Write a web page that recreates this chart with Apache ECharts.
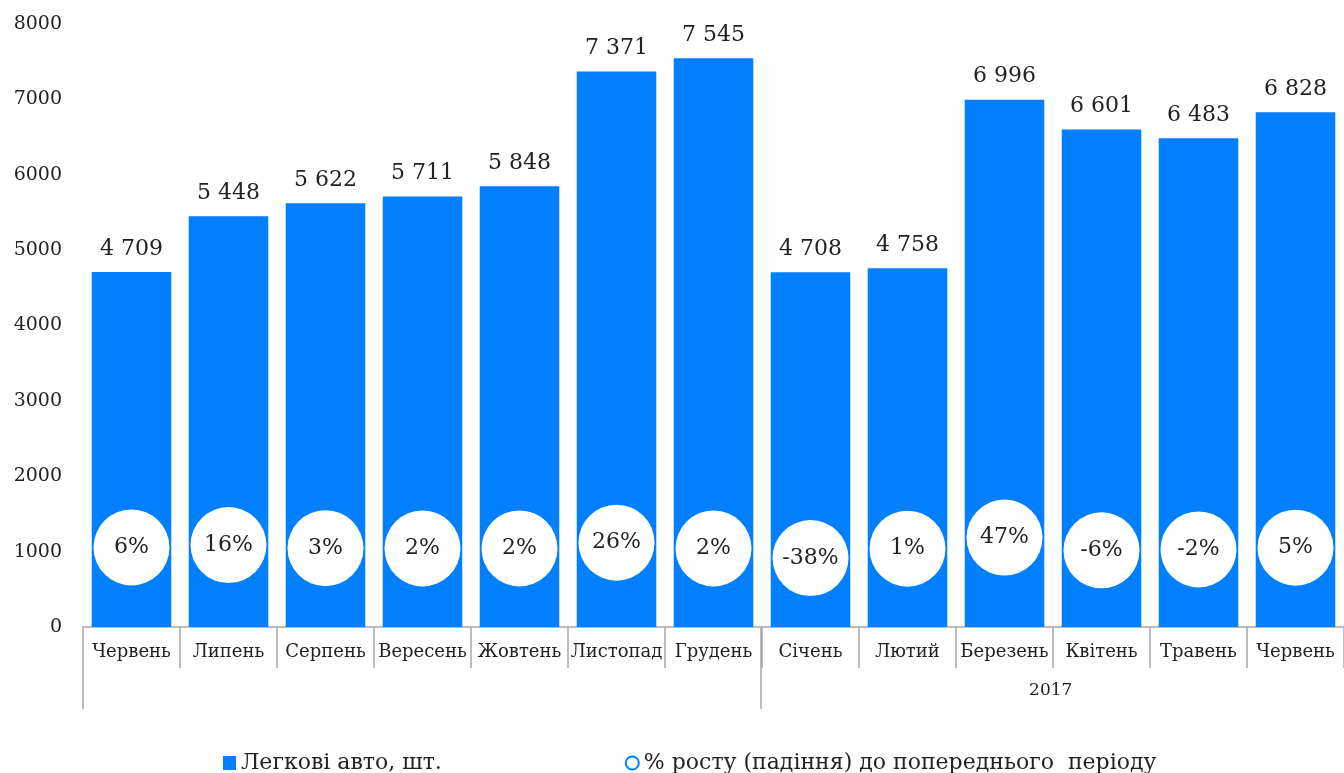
<!DOCTYPE html>
<html>
<head>
<meta charset="utf-8">
<script src="https://cdn.jsdelivr.net/npm/echarts@6/dist/echarts.min.js"></script>
<style>
    html, body { margin: 0; padding: 0; background: #fff; }
    #chart { width: 1344px; height: 773px; }
</style>
</head>
<body>
<div id="chart"></div>
<script>
// Місяці (червень 2016 - червень 2017)
const months = ["Червень", "Липень", "Серпень", "Вересень", "Жовтень", "Листопад", "Грудень",
    "Січень", "Лютий", "Березень", "Квітень", "Травень", "Червень"];
// Межі між місяцями (14 точок): рік підписано посередині групи 2017
const groupLabels = ["", "", "", "", "", "", "", "", "", "", "2017", "", "", ""];
const cars = [4709, 5448, 5622, 5711, 5848, 7371, 7545, 4708, 4758, 6996, 6601, 6483, 6828];
const growth = [6, 16, 3, 2, 2, 26, 2, -38, 1, 47, -6, -2, 5];

const carsName = "Легкові авто, шт.";
const growthName = "% росту (падіння) до попереднього  періоду";

const BLUE = "#0080ff";
const FONT = "DejaVu Serif";
const GRAY = "#a6a6a6";

const fmtThousands = v => String(v).replace(/\B(?=(\d{3})+(?!\d))/g, " ");

const chart = echarts.init(document.getElementById("chart"));

chart.setOption({
    animation: false,
    textStyle: { fontFamily: FONT },
    grid: [
        { left: 83, top: 24, width: 1267, height: 603 },
        // смуга під віссю для підпису року
        { left: 83, top: 627, width: 1267, height: 82 }
    ],
    legend: {
        left: 218,
        top: 747,
        itemGap: 183,
        itemWidth: 13,
        itemHeight: 14,
        textStyle: { fontFamily: FONT, fontSize: 22, color: "#222" },
        data: [
            { name: carsName, icon: "rect" },
            { name: growthName, icon: "circle",
              itemStyle: { color: "#fff", borderColor: BLUE, borderWidth: 2 } }
        ]
    },
    xAxis: [
        {
            type: "category",
            data: months,
            axisLine: { lineStyle: { color: GRAY, width: 1.5 } },
            axisTick: { show: true, interval: 0, length: 41, lineStyle: { color: GRAY, width: 1.5 } },
            axisLabel: { interval: 0, margin: 16, fontSize: 18, color: "#222", fontFamily: FONT }
        },
        {
            type: "category",
            gridIndex: 1,
            data: groupLabels,
            boundaryGap: false,
            position: "bottom",
            axisLine: { show: false },
            axisTick: {
                show: true,
                inside: true,
                length: 82,
                interval: (i) => i === 0 || i === 7,
                lineStyle: { color: GRAY, width: 1.5 }
            },
            axisLabel: {
                inside: true,
                interval: 0,
                margin: 10,
                fontSize: 17,
                color: "#222",
                fontFamily: FONT
            }
        }
    ],
    yAxis: [
        {
            type: "value",
            min: 0,
            max: 8000,
            interval: 1000,
            splitLine: { show: false },
            axisLine: { show: false },
            axisTick: { show: false },
            axisLabel: {
                margin: 21, fontSize: 19, color: "#222", fontFamily: FONT,
                formatter: v => String(v)
            }
        },
        {
            type: "value",
            min: -324,
            max: 2178,
            show: false,
            splitLine: { show: false }
        },
        {
            type: "value",
            gridIndex: 1,
            show: false,
            splitLine: { show: false }
        }
    ],
    series: [
        {
            name: carsName,
            type: "bar",
            data: cars,
            barCategoryGap: "18%",
            itemStyle: { color: BLUE },
            label: {
                show: true,
                position: "top",
                distance: 12,
                fontSize: 22,
                color: "#222",
                fontFamily: FONT,
                formatter: p => fmtThousands(p.value)
            }
        },
        {
            name: growthName,
            type: "scatter",
            yAxisIndex: 1,
            data: growth,
            symbol: "circle",
            symbolSize: 76,
            itemStyle: { color: "#fff", opacity: 1 },
            label: {
                show: true,
                position: "inside",
                fontSize: 22,
                color: "#222",
                fontFamily: FONT,
                formatter: p => p.value + "%"
            },
            z: 3
        }
    ]
});
</script>
</body>
</html>
